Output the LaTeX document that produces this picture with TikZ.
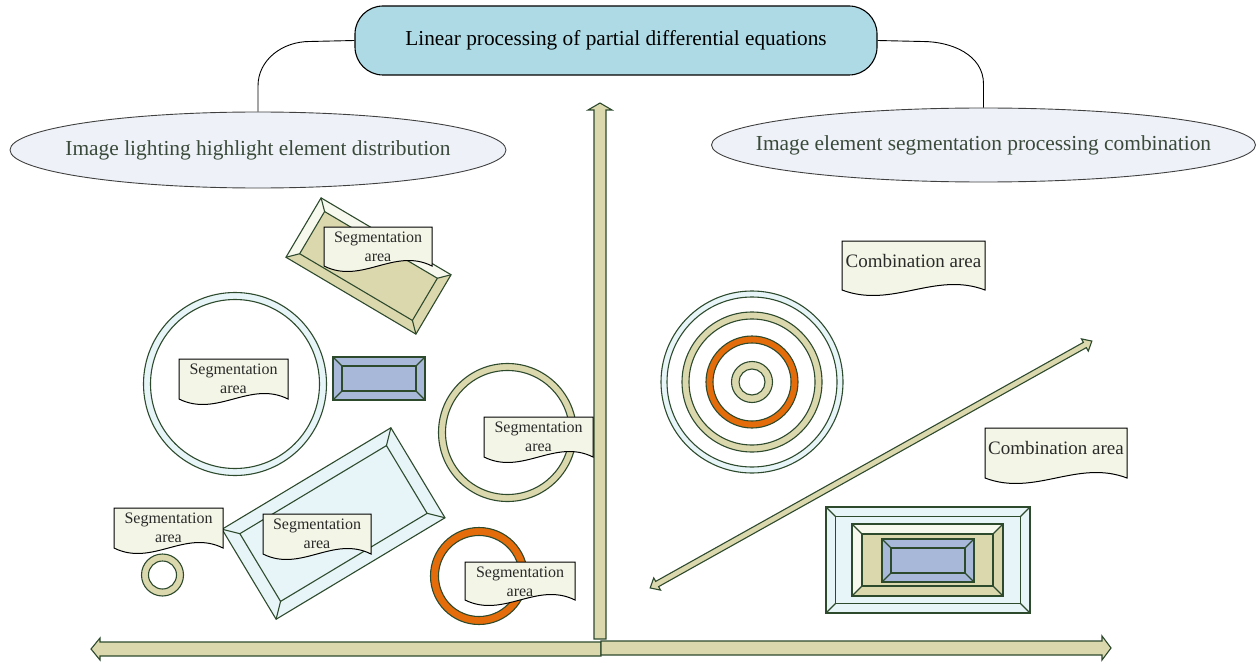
\documentclass[tikz,border=0pt]{standalone}
\usepackage{fontspec}
\setmainfont{Liberation Serif}
\usetikzlibrary{shapes.geometric}

% bevelled block: centre x, centre y, width, height, angle, bevel, face, light face
\newcommand{\bevelbox}[8]{%
  \begin{scope}[shift={(#1,#2)},rotate=#5]
    \pgfmathsetmacro\bxw{#3/2}
    \pgfmathsetmacro\bxh{#4/2}
    \fill[#7] (-\bxw,-\bxh) -- (\bxw,-\bxh) -- (\bxw,\bxh) -- (-\bxw,\bxh) -- cycle;
    \fill[#8] (-\bxw,-\bxh) -- (\bxw,-\bxh) -- (\bxw-#6,-\bxh+#6) -- (-\bxw+#6,-\bxh+#6) -- (-\bxw+#6,\bxh-#6) -- (-\bxw,\bxh) -- cycle;
    \draw[edge] (-\bxw,-\bxh) -- (\bxw,-\bxh) -- (\bxw,\bxh) -- (-\bxw,\bxh) -- cycle;
    \draw[edge] (-\bxw+#6,-\bxh+#6) -- (\bxw-#6,-\bxh+#6) -- (\bxw-#6,\bxh-#6) -- (-\bxw+#6,\bxh-#6) -- cycle;
    \draw[edge] (-\bxw,-\bxh) -- (-\bxw+#6,-\bxh+#6) (\bxw,-\bxh) -- (\bxw-#6,-\bxh+#6)
      (\bxw,\bxh) -- (\bxw-#6,\bxh-#6) (-\bxw,\bxh) -- (-\bxw+#6,\bxh-#6);
  \end{scope}}

% ring: centre x, centre y, outer radius, inner radius, colour
\newcommand{\ringshape}[5]{%
  \fill[#5,even odd rule] (#1,#2) circle (#3pt) (#1,#2) circle (#4pt);
  \draw[edge] (#1,#2) circle (#3pt) (#1,#2) circle (#4pt);}

% document sheet: name, left, top, width, height, text style, text
\newcommand{\docpaper}[7]{%
  \draw[paper] (#2,#3) -- (#2+#4,#3) -- (#2+#4,#3+#5)
    .. controls (#2+0.65*#4,#3+#5-19) and (#2+0.35*#4,#3+#5+19) .. (#2,#3+#5) -- cycle;
  \node[#6] (#1) at (#2+#4/2,#3) {#7};}

\begin{document}
\begin{tikzpicture}[x=1pt,y=-1pt,
    edge/.style={draw=edgegreen,line width=1.1pt,line join=miter},
    link/.style={draw=black,line width=0.9pt},
    shaft/.style={fill=khaki,draw=edgegreen,line width=1.1pt,line join=miter},
    paper/.style={fill=paperfill,draw=black,line width=1pt},
    segtext/.style={anchor=north,inner sep=0pt,yshift=-5pt,align=center,text=inkgrey,
      font=\fontsize{16}{19}\selectfont},
    combtext/.style={anchor=north,inner sep=0pt,yshift=-13pt,align=center,text=inkgrey,
      font=\fontsize{19}{21}\selectfont},
    titlebox/.style={draw=black,fill=titleblue,line width=1.1pt,rounded corners=28pt,
      minimum width=522pt,minimum height=69pt,inner sep=0pt},
    bubble/.style={ellipse,draw=black!75,fill=bubblefill,line width=0.9pt,inner sep=0pt},
    bubbletext/.style={inner sep=0pt,text=inkgreen,font=\fontsize{21.4}{24}\selectfont}]
  \definecolor{edgegreen}{HTML}{2D4A2D}
  \definecolor{khaki}{HTML}{DCD8AE}
  \definecolor{paleblue}{HTML}{E7F5F8}
  \definecolor{slateblue}{HTML}{A7B8D9}
  \definecolor{burnt}{HTML}{E46C0A}
  \definecolor{chalk}{HTML}{F7F8EE}
  \definecolor{paperfill}{HTML}{F3F6E6}
  \definecolor{titleblue}{HTML}{ADDAE5}
  \definecolor{bubblefill}{HTML}{EEF2F8}
  \definecolor{inkgrey}{HTML}{2A2A2A}
  \definecolor{inkgreen}{HTML}{3A4A3A}
  \useasboundingbox (0,0) rectangle (1257,663);

  % heading and the two branches
  \node[titlebox,font=\fontsize{21.3}{24}\selectfont] (title) at (616,40.5) {Linear processing of partial differential equations};
  \node[bubble,minimum width=496pt,minimum height=76pt] (leftell) at (258,150) {};
  \node[bubbletext] (lefttext) at (leftell.center) {Image lighting highlight element distribution};
  \node[bubble,minimum width=544pt,minimum height=74pt] (rightell) at (983.5,145) {};
  \node[bubbletext] (righttext) at (rightell.center) {Image element segmentation processing combination};
  \coordinate (lbend) at (258,86);
  \coordinate (rbend) at (983.5,84);
  \draw[link] (title.west) -- ++(-45,1) to[out=180,in=90] (lbend) -- (leftell.north);
  \draw[link] (title.east) -- ++(45,1) to[out=0,in=90] (rbend) -- (rightell.north);

  % left half
  \bevelbox{368.5}{266}{151}{69}{-30.6}{10}{khaki}{chalk}
  \ringshape{235}{384}{91.5}{84.5}{paleblue}
  \bevelbox{379}{378.5}{92}{43}{0}{9}{slateblue}{slateblue}
  \ringshape{507.5}{432.5}{69}{62}{khaki}
  \bevelbox{333.5}{523.5}{197}{105}{31}{13}{paleblue}{paleblue}
  \ringshape{162.5}{575}{21}{14}{khaki}
  \ringshape{479}{576}{48.5}{40.5}{burnt}

  % right half
  \ringshape{752}{382}{91}{85}{paleblue}
  \ringshape{752}{382}{70}{63}{khaki}
  \ringshape{752}{382}{46}{39}{burnt}
  \ringshape{752}{382}{20.5}{13}{khaki}
  \bevelbox{928}{560}{204}{106}{0}{9.5}{paleblue}{paleblue}
  \bevelbox{927.5}{560}{151}{72}{0}{10}{khaki}{chalk}
  \bevelbox{928}{560.5}{92}{43}{0}{9}{slateblue}{slateblue}

  % axes
  \draw[shaft] (601,642) -- (100,642) -- (100,638) -- (91,649) -- (100,660) -- (100,656) -- (601,656) -- cycle;
  \draw[shaft] (601,641) -- (1102,641) -- (1102,636) -- (1111,648) -- (1102,660) -- (1102,655) -- (601,655) -- cycle;
  \draw[shaft] (594,639) -- (594,110) -- (588,110) -- (600,103) -- (612,110) -- (606,110) -- (606,639) -- cycle;
  \begin{scope}[shift={(871,464.5)},rotate=29.2]
    \draw[shaft] (-245,-3) -- (245,-3) -- (245,-7) -- (253,0) -- (245,7) -- (245,3)
      -- (-245,3) -- (-245,7) -- (-253,0) -- (-245,-7) -- cycle;
  \end{scope}

  % labels
  \docpaper{segtop}{324}{227}{108}{39}{segtext}{Segmentation\\area}
  \docpaper{segring}{179}{359}{109}{40}{segtext}{Segmentation\\area}
  \docpaper{segkhaki}{484}{417}{109}{40}{segtext}{Segmentation\\area}
  \docpaper{segsmall}{114}{508}{109}{40}{segtext}{Segmentation\\area}
  \docpaper{segslab}{263}{514}{108}{40}{segtext}{Segmentation\\area}
  \docpaper{segorange}{465}{562}{110}{38}{segtext}{Segmentation\\area}
  \docpaper{combtop}{842}{241}{143}{49}{combtext}{Combination area}
  \docpaper{comblow}{985}{428}{142}{50}{combtext}{Combination area}
\end{tikzpicture}
\end{document}
